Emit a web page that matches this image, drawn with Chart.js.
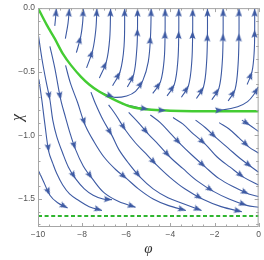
<!DOCTYPE html>
<html>
<head>
<meta charset="utf-8">
<script src="https://cdn.jsdelivr.net/npm/chart.js@4/dist/chart.umd.min.js"></script>
<style>
  html, body { margin: 0; padding: 0; background: #fff; }
</style>
</head>
<body>
<div style="width:264px;height:260px"><canvas id="stream" width="264" height="260"></canvas></div>
<script>
// axis ticks
const xTicks = [-10, -8, -6, -4, -2, 0];
const yTicks = [0, -0.5, -1.0, -1.5];
const yTickLabels = ["0.0", "\u22120.5", "\u22121.0", "\u22121.5"];

// green curve (solid) and the dashed floor at chi ~ -1.63
const separatrix = [
  [-10, 0], [-9.61, -0.13], [-9.24, -0.24], [-8.87, -0.36], [-8.5, -0.45],
  [-8.05, -0.54], [-7.68, -0.6], [-7.23, -0.656], [-6.6, -0.715], [-5.82, -0.773],
  [-5, -0.797], [-4, -0.806], [-3, -0.81], [-2, -0.81], [-1, -0.81], [0, -0.81]
];
const floorChi = -1.633;

// stream lines above the green curve (flow goes up to chi = 0)
const upLines = [
  { pts: [[-9.24, -0.14], [-9.2, -0.07], [-9.17, -0.005]], arrows: [2] },
  { pts: [[-8.76, -0.24], [-8.64, -0.12], [-8.58, -0.005]], arrows: [2] },
  { pts: [[-8.26, -0.35], [-8.06, -0.22], [-7.97, -0.1], [-7.95, -0.005]], arrows: [1, 3] },
  { pts: [[-7.8, -0.47], [-7.52, -0.33], [-7.38, -0.17], [-7.33, -0.005]], arrows: [1, 3] },
  { pts: [[-7.22, -0.55], [-6.9, -0.42], [-6.75, -0.24], [-6.71, -0.005]], arrows: [1, 3] },
  { pts: [[-6.62, -0.61], [-6.28, -0.5], [-6.1, -0.3], [-6.07, -0.005]], arrows: [1, 3] },
  { pts: [[-5.95, -0.62], [-5.66, -0.52], [-5.52, -0.32], [-5.49, -0.16], [-5.49, -0.005]], arrows: [1, 3, 4] },
  { pts: [[-7.23, -0.655], [-6.56, -0.7], [-5.98, -0.69], [-5.58, -0.655], [-5.25, -0.57], [-5.0, -0.42], [-4.9, -0.22], [-4.87, -0.005]], arrows: [1, 4, 6, 7] },
  { pts: [[-4.8, -0.67], [-4.45, -0.58], [-4.28, -0.4], [-4.24, -0.18], [-4.24, -0.005]], arrows: [1, 3, 4] },
  { pts: [[-4.15, -0.69], [-3.82, -0.6], [-3.66, -0.41], [-3.62, -0.18], [-3.62, -0.005]], arrows: [1, 3, 4] },
  { pts: [[-3.5, -0.7], [-3.18, -0.61], [-3.03, -0.42], [-2.99, -0.18], [-2.99, -0.005]], arrows: [1, 3, 4] },
  { pts: [[-2.82, -0.71], [-2.5, -0.62], [-2.36, -0.43], [-2.32, -0.2], [-2.32, -0.005]], arrows: [1, 3, 4] },
  { pts: [[-2.12, -0.72], [-1.8, -0.63], [-1.65, -0.43], [-1.61, -0.2], [-1.61, -0.005]], arrows: [1, 3, 4] },
  { pts: [[-1.38, -0.73], [-1.07, -0.64], [-0.93, -0.44], [-0.89, -0.2], [-0.89, -0.005]], arrows: [1, 3, 4] },
  { pts: [[-0.52, -0.6], [-0.3, -0.5], [-0.2, -0.34], [-0.18, -0.17], [-0.18, -0.005]], arrows: [1, 3, 4] },
  { pts: [[-6.2, -0.752], [-5.5, -0.78], [-5.0, -0.795], [-4.2, -0.805], [-3.4, -0.81], [-2.5, -0.81],
          [-1.61, -0.8], [-0.95, -0.775], [-0.5, -0.735], [-0.2, -0.675], [-0.02, -0.62]], arrows: [2, 3, 6, 10] }
];

// stream lines below the green curve (flow goes down and right)
const downLines = [
  { pts: [[-10, -0.19], [-9.82, -0.4], [-9.64, -0.57], [-9.46, -0.72], [-9.33, -0.88], [-9.15, -1.01], [-8.88, -1.14],
          [-8.62, -1.25], [-8.3, -1.34], [-7.9, -1.42], [-7.5, -1.47], [-7.05, -1.5], [-6.65, -1.505]], arrows: [3, 8, 12] },
  { pts: [[-9.96, -0.56], [-9.82, -0.73], [-9.69, -0.91], [-9.51, -1.13], [-9.33, -1.22], [-9.15, -1.3], [-8.88, -1.39],
          [-8.57, -1.46], [-8.17, -1.51], [-7.68, -1.56], [-7.1, -1.59]], arrows: [3, 10] },
  { pts: [[-10, -1.27], [-9.73, -1.37], [-9.46, -1.47], [-9.11, -1.53], [-8.66, -1.57]], arrows: [2, 4] },
  { pts: [[-9.46, -0.3], [-9.24, -0.47], [-8.97, -0.72], [-8.75, -0.86], [-8.57, -0.97], [-8.3, -1.11], [-7.95, -1.24],
          [-7.54, -1.34], [-7.01, -1.45], [-6.34, -1.52], [-5.58, -1.565]], arrows: [2, 5, 7, 10] },
  { pts: [[-8.75, -0.45], [-8.53, -0.59], [-8.21, -0.74], [-7.86, -0.92], [-7.46, -1.05], [-7.01, -1.17], [-6.47, -1.27],
          [-5.98, -1.34], [-5.45, -1.42], [-4.78, -1.5], [-4.11, -1.55], [-3.3, -1.59]], arrows: [3, 7, 11] },
  { pts: [[-7.6, -0.66], [-7.4, -0.75], [-7.05, -0.88], [-6.65, -1.0], [-6.34, -1.11], [-5.89, -1.22], [-5.36, -1.33],
          [-4.78, -1.42], [-4.11, -1.49], [-3.44, -1.535], [-2.59, -1.59]], arrows: [3, 6, 10] },
  { pts: [[-6.8, -0.76], [-6.47, -0.84], [-6.03, -0.96], [-5.58, -1.06], [-5.13, -1.14], [-4.64, -1.23], [-4.02, -1.33],
          [-3.35, -1.42], [-2.55, -1.5], [-1.7, -1.56], [-0.76, -1.6]], arrows: [2, 5, 8, 10] },
  { pts: [[-5.89, -0.82], [-5.45, -0.9], [-5.0, -0.99], [-4.55, -1.07], [-4.02, -1.17], [-3.44, -1.26], [-2.77, -1.36],
          [-2.05, -1.44], [-1.34, -1.5], [-0.54, -1.55], [0, -1.565]], arrows: [2, 4, 7, 9] },
  { pts: [[-4.91, -0.84], [-4.46, -0.9], [-4.02, -0.98], [-3.53, -1.07], [-2.99, -1.16], [-2.41, -1.25], [-1.79, -1.34],
          [-1.07, -1.41], [-0.45, -1.46], [0, -1.48]], arrows: [3, 5, 8] },
  { pts: [[-3.88, -0.86], [-3.44, -0.91], [-2.95, -0.99], [-2.41, -1.07], [-1.88, -1.17], [-1.29, -1.25], [-0.67, -1.33],
          [0, -1.39]], arrows: [3, 6] },
  { pts: [[-2.86, -0.88], [-2.41, -0.94], [-1.92, -1.02], [-1.38, -1.1], [-0.85, -1.18], [-0.31, -1.25], [0, -1.29]], arrows: [2, 5] },
  { pts: [[-1.79, -0.9], [-1.34, -0.95], [-0.89, -1.02], [-0.45, -1.09], [0, -1.14]], arrows: [3] },
  { pts: [[-0.76, -0.88], [-0.4, -0.92], [0, -0.97]], arrows: [1] }
];

const blue = "#3d5aa3";
const green = "#44cc33";

// arrow head, tip in the centre of the little canvas so it sits on the point
function makeArrow() {
  const c = document.createElement("canvas");
  c.width = 7;
  c.height = 18;
  const g = c.getContext("2d");
  g.fillStyle = blue;
  g.beginPath();
  g.moveTo(3.5, 9);
  g.lineTo(6.6, 17);
  g.lineTo(3.5, 15.6);
  g.lineTo(0.4, 17);
  g.closePath();
  g.fill();
  return c;
}

let datasets = [];
let arrowPts = [];
upLines.concat(downLines).forEach(line => {
  datasets.push({
    data: line.pts.map(p => ({ x: p[0], y: p[1] })),
    showLine: true,
    borderColor: blue,
    borderWidth: 1.1,
    pointRadius: 0,
    tension: 0.35,
    order: 3
  });
  line.arrows.forEach(i => {
    arrowPts.push({ x: line.pts[i][0], y: line.pts[i][1], fx: line.pts[i - 1][0], fy: line.pts[i - 1][1] });
  });
});

datasets.push({
  data: separatrix.map(p => ({ x: p[0], y: p[1] })),
  showLine: true,
  borderColor: green,
  borderWidth: 2.4,
  pointRadius: 0,
  tension: 0.3,
  order: 1
});
datasets.push({
  data: [{ x: -10, y: floorChi }, { x: 0, y: floorChi }],
  showLine: true,
  borderColor: "#2fb52f",
  borderWidth: 1.9,
  borderDash: [4, 2.6],
  pointRadius: 0,
  order: 1
});
datasets.push({
  data: arrowPts,
  showLine: false,
  pointStyle: makeArrow(),
  pointRadius: 3,
  rotation: ctx => {
    const r = ctx.raw;
    if (!r) return 0;
    const xs = ctx.chart.scales.x, ys = ctx.chart.scales.y;
    const dx = xs.getPixelForValue(r.x) - xs.getPixelForValue(r.fx);
    const dy = ys.getPixelForValue(r.y) - ys.getPixelForValue(r.fy);
    return Math.atan2(dx, -dy) * 180 / Math.PI;
  },
  order: 0
});

// Mathematica style frame with inward ticks
const framePlugin = {
  id: "frame",
  afterDatasetsDraw(chart) {
    const { ctx, chartArea: a, scales: { x, y } } = chart;
    ctx.save();
    ctx.strokeStyle = "#a6a6a6";
    ctx.lineWidth = 1;
    ctx.strokeRect(a.left + 0.5, a.top + 0.5, a.right - a.left - 1, a.bottom - a.top - 1);
    ctx.beginPath();
    for (let k = 0; k <= 20; k++) {
      const v = -10 + k * 0.5;
      const px = Math.round(x.getPixelForValue(v)) + 0.5;
      const len = k % 4 === 0 ? 4 : 2.5;
      ctx.moveTo(px, a.bottom);
      ctx.lineTo(px, a.bottom - len);
      ctx.moveTo(px, a.top);
      ctx.lineTo(px, a.top + len);
    }
    for (let k = 0; k <= 17; k++) {
      const v = -k * 0.1;
      const py = Math.round(y.getPixelForValue(v)) + 0.5;
      const len = k % 5 === 0 ? 4 : 2.5;
      ctx.moveTo(a.left, py);
      ctx.lineTo(a.left + len, py);
      ctx.moveTo(a.right, py);
      ctx.lineTo(a.right - len, py);
    }
    ctx.stroke();
    ctx.restore();
  }
};

const tickFont = { family: "Liberation Sans", size: 8.5 };

new Chart(document.getElementById("stream").getContext("2d"), {
  type: "scatter",
  data: { datasets: datasets },
  options: {
    responsive: false,
    animation: false,
    events: [],
    layout: { padding: { top: 3, right: 2, bottom: 0, left: 0 } },
    plugins: { legend: { display: false }, tooltip: { enabled: false } },
    scales: {
      x: {
        type: "linear",
        min: -10,
        max: 0,
        grid: { display: false, drawTicks: false },
        border: { display: false },
        afterBuildTicks: scale => { scale.ticks = xTicks.map(v => ({ value: v })); },
        afterFit: scale => { scale.height = 33; },
        ticks: {
          autoSkip: false,
          maxRotation: 0,
          padding: 3,
          color: "#555",
          font: tickFont,
          callback: v => (v < 0 ? "\u2212" + Math.abs(v) : "" + v)
        },
        title: {
          display: true,
          text: "\u03c6",
          color: "#333",
          padding: 0,
          font: { family: "Liberation Serif", style: "italic", size: 15, lineHeight: "22px" }
        }
      },
      y: {
        type: "linear",
        min: -1.72,
        max: 0,
        grid: { display: false, drawTicks: false },
        border: { display: false },
        afterBuildTicks: scale => { scale.ticks = yTicks.map(v => ({ value: v })); },
        afterFit: scale => { scale.width = 38; },
        ticks: {
          autoSkip: false,
          padding: 3,
          color: "#555",
          font: tickFont,
          callback: (v, i) => yTickLabels[i]
        },
        title: {
          display: true,
          text: "\u03c7",
          color: "#333",
          padding: 0,
          font: { family: "Liberation Serif", style: "italic", size: 16, lineHeight: "36px" }
        }
      }
    }
  },
  plugins: [framePlugin]
});
</script>
</body>
</html>
